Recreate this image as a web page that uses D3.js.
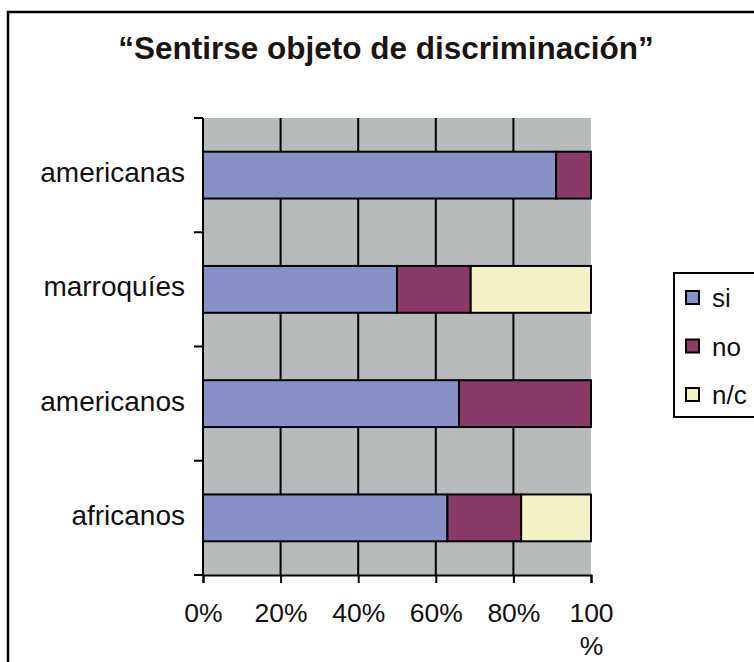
<!DOCTYPE html>
<html>
<head>
<meta charset="utf-8">
<script src="https://cdn.jsdelivr.net/npm/d3@7"></script>
<style>
  html, body { margin: 0; padding: 0; background: #fff; }
  svg { display: block; font-family: "Liberation Sans", Arial, sans-serif; }
</style>
</head>
<body>
<svg id="chart" width="754" height="662"></svg>
<script>
const title = "\u201cSentirse objeto de discriminación\u201d";
const categories = ["americanas", "marroquíes", "americanos", "africanos"];
const seriesNames = ["si", "no", "n/c"];
const siValues = [91, 50, 66, 63];
const noValues = [9, 19, 34, 19];
const ncValues = [0, 31, 0, 18];
const xTicks = [0, 20, 40, 60, 80, 100];
const colors = ["#8890C8", "#8A3A66", "#F2F2C4"];

const rows = categories.map((c, i) => ({ cat: c, "si": siValues[i], "no": noValues[i], "n/c": ncValues[i] }));

const svg = d3.select("#chart");
const margin = { left: 203, right: 591, top: 118, bottom: 575 };

// frame
svg.append("path")
  .attr("d", "M8,662 V12 H754")
  .attr("fill", "none").attr("stroke", "#000").attr("stroke-width", 2.5);

// title
svg.append("text")
  .attr("x", 386).attr("y", 59)
  .attr("text-anchor", "middle")
  .attr("font-size", 31.5).attr("font-weight", "bold")
  .attr("fill", "#1a1412")
  .text(title);

const x = d3.scaleLinear().domain([0, 100]).range([margin.left, margin.right]);
const y = d3.scaleBand().domain(categories).range([margin.top, margin.bottom])
  .paddingInner(0.59).paddingOuter(0.295);

// plot background
svg.append("rect")
  .attr("x", x(0)).attr("y", margin.top)
  .attr("width", x(100) - x(0)).attr("height", margin.bottom - margin.top)
  .attr("fill", "#B8BBBB");

// vertical gridlines
svg.append("g").selectAll("line")
  .data(xTicks.filter(t => t > 0 && t < 100))
  .join("line")
  .attr("x1", d => x(d)).attr("x2", d => x(d))
  .attr("y1", margin.top).attr("y2", margin.bottom)
  .attr("stroke", "#000").attr("stroke-width", 2);

// stacked bars
const stack = d3.stack().keys(seriesNames)(rows);
svg.append("g").selectAll("g")
  .data(stack)
  .join("g")
  .attr("fill", (d, i) => colors[i])
  .selectAll("rect")
  .data(d => d.filter(s => s[1] - s[0] > 0))
  .join("rect")
  .attr("x", d => x(d[0]))
  .attr("y", d => y(d.data.cat))
  .attr("width", d => x(d[1]) - x(d[0]))
  .attr("height", y.bandwidth())
  .attr("stroke", "#000").attr("stroke-width", 2);

// y axis: line + ticks at band boundaries
const step = y.step();
const boundaries = [margin.top].concat(categories.map(c => y(c) - y.paddingInner() * step / 2 + step));
const yAxisG = svg.append("g");
yAxisG.append("line")
  .attr("x1", x(0)).attr("x2", x(0))
  .attr("y1", margin.top).attr("y2", margin.bottom)
  .attr("stroke", "#000").attr("stroke-width", 2);
yAxisG.selectAll("line.tick")
  .data(boundaries)
  .join("line").attr("class", "tick")
  .attr("x1", x(0) - 9).attr("x2", x(0))
  .attr("y1", d => d).attr("y2", d => d)
  .attr("stroke", "#000").attr("stroke-width", 2);

// category labels
svg.append("g").selectAll("text")
  .data(categories)
  .join("text")
  .attr("x", 185)
  .attr("y", d => y(d) + y.bandwidth() / 2 + 7)
  .attr("text-anchor", "end")
  .attr("font-size", 28)
  .attr("fill", "#111")
  .text(d => d);

// x axis
const xAxis = d3.axisBottom(x).tickValues(xTicks).tickSize(8).tickPadding(20)
  .tickFormat(d => d + "%");
const xg = svg.append("g").attr("transform", `translate(0,${margin.bottom})`).call(xAxis);
xg.select(".domain").attr("stroke", "#000").attr("stroke-width", 2);
xg.selectAll(".tick line").attr("stroke", "#000").attr("stroke-width", 2);
xg.selectAll(".tick text")
  .attr("font-size", 26.5)
  .attr("font-family", "Liberation Sans, Arial, sans-serif")
  .attr("fill", "#111")
  .attr("dy", null)
  .attr("y", 47)
  .each(function(d) {
    if (d === 100) {
      const t = d3.select(this);
      t.text(null);
      t.append("tspan").attr("x", 0).attr("y", 47).text("100");
      t.append("tspan").attr("x", 0).attr("y", 80).text("%");
    }
  });

// legend
const lg = svg.append("g");
lg.append("rect")
  .attr("x", 674).attr("y", 273).attr("width", 120).attr("height", 144)
  .attr("fill", "#fff").attr("stroke", "#000").attr("stroke-width", 2);
const itemY = d3.scalePoint().domain(seriesNames).range([298, 395]);
const items = lg.selectAll("g.item").data(seriesNames).join("g").attr("class", "item");
items.append("rect")
  .attr("x", 686).attr("y", d => itemY(d) - 7)
  .attr("width", 13).attr("height", 13)
  .attr("fill", (d, i) => colors[i])
  .attr("stroke", "#000").attr("stroke-width", 2);
items.append("text")
  .attr("x", 712).attr("y", d => itemY(d) + 9)
  .attr("font-size", 26)
  .attr("fill", "#111")
  .text(d => d);
</script>
</body>
</html>
